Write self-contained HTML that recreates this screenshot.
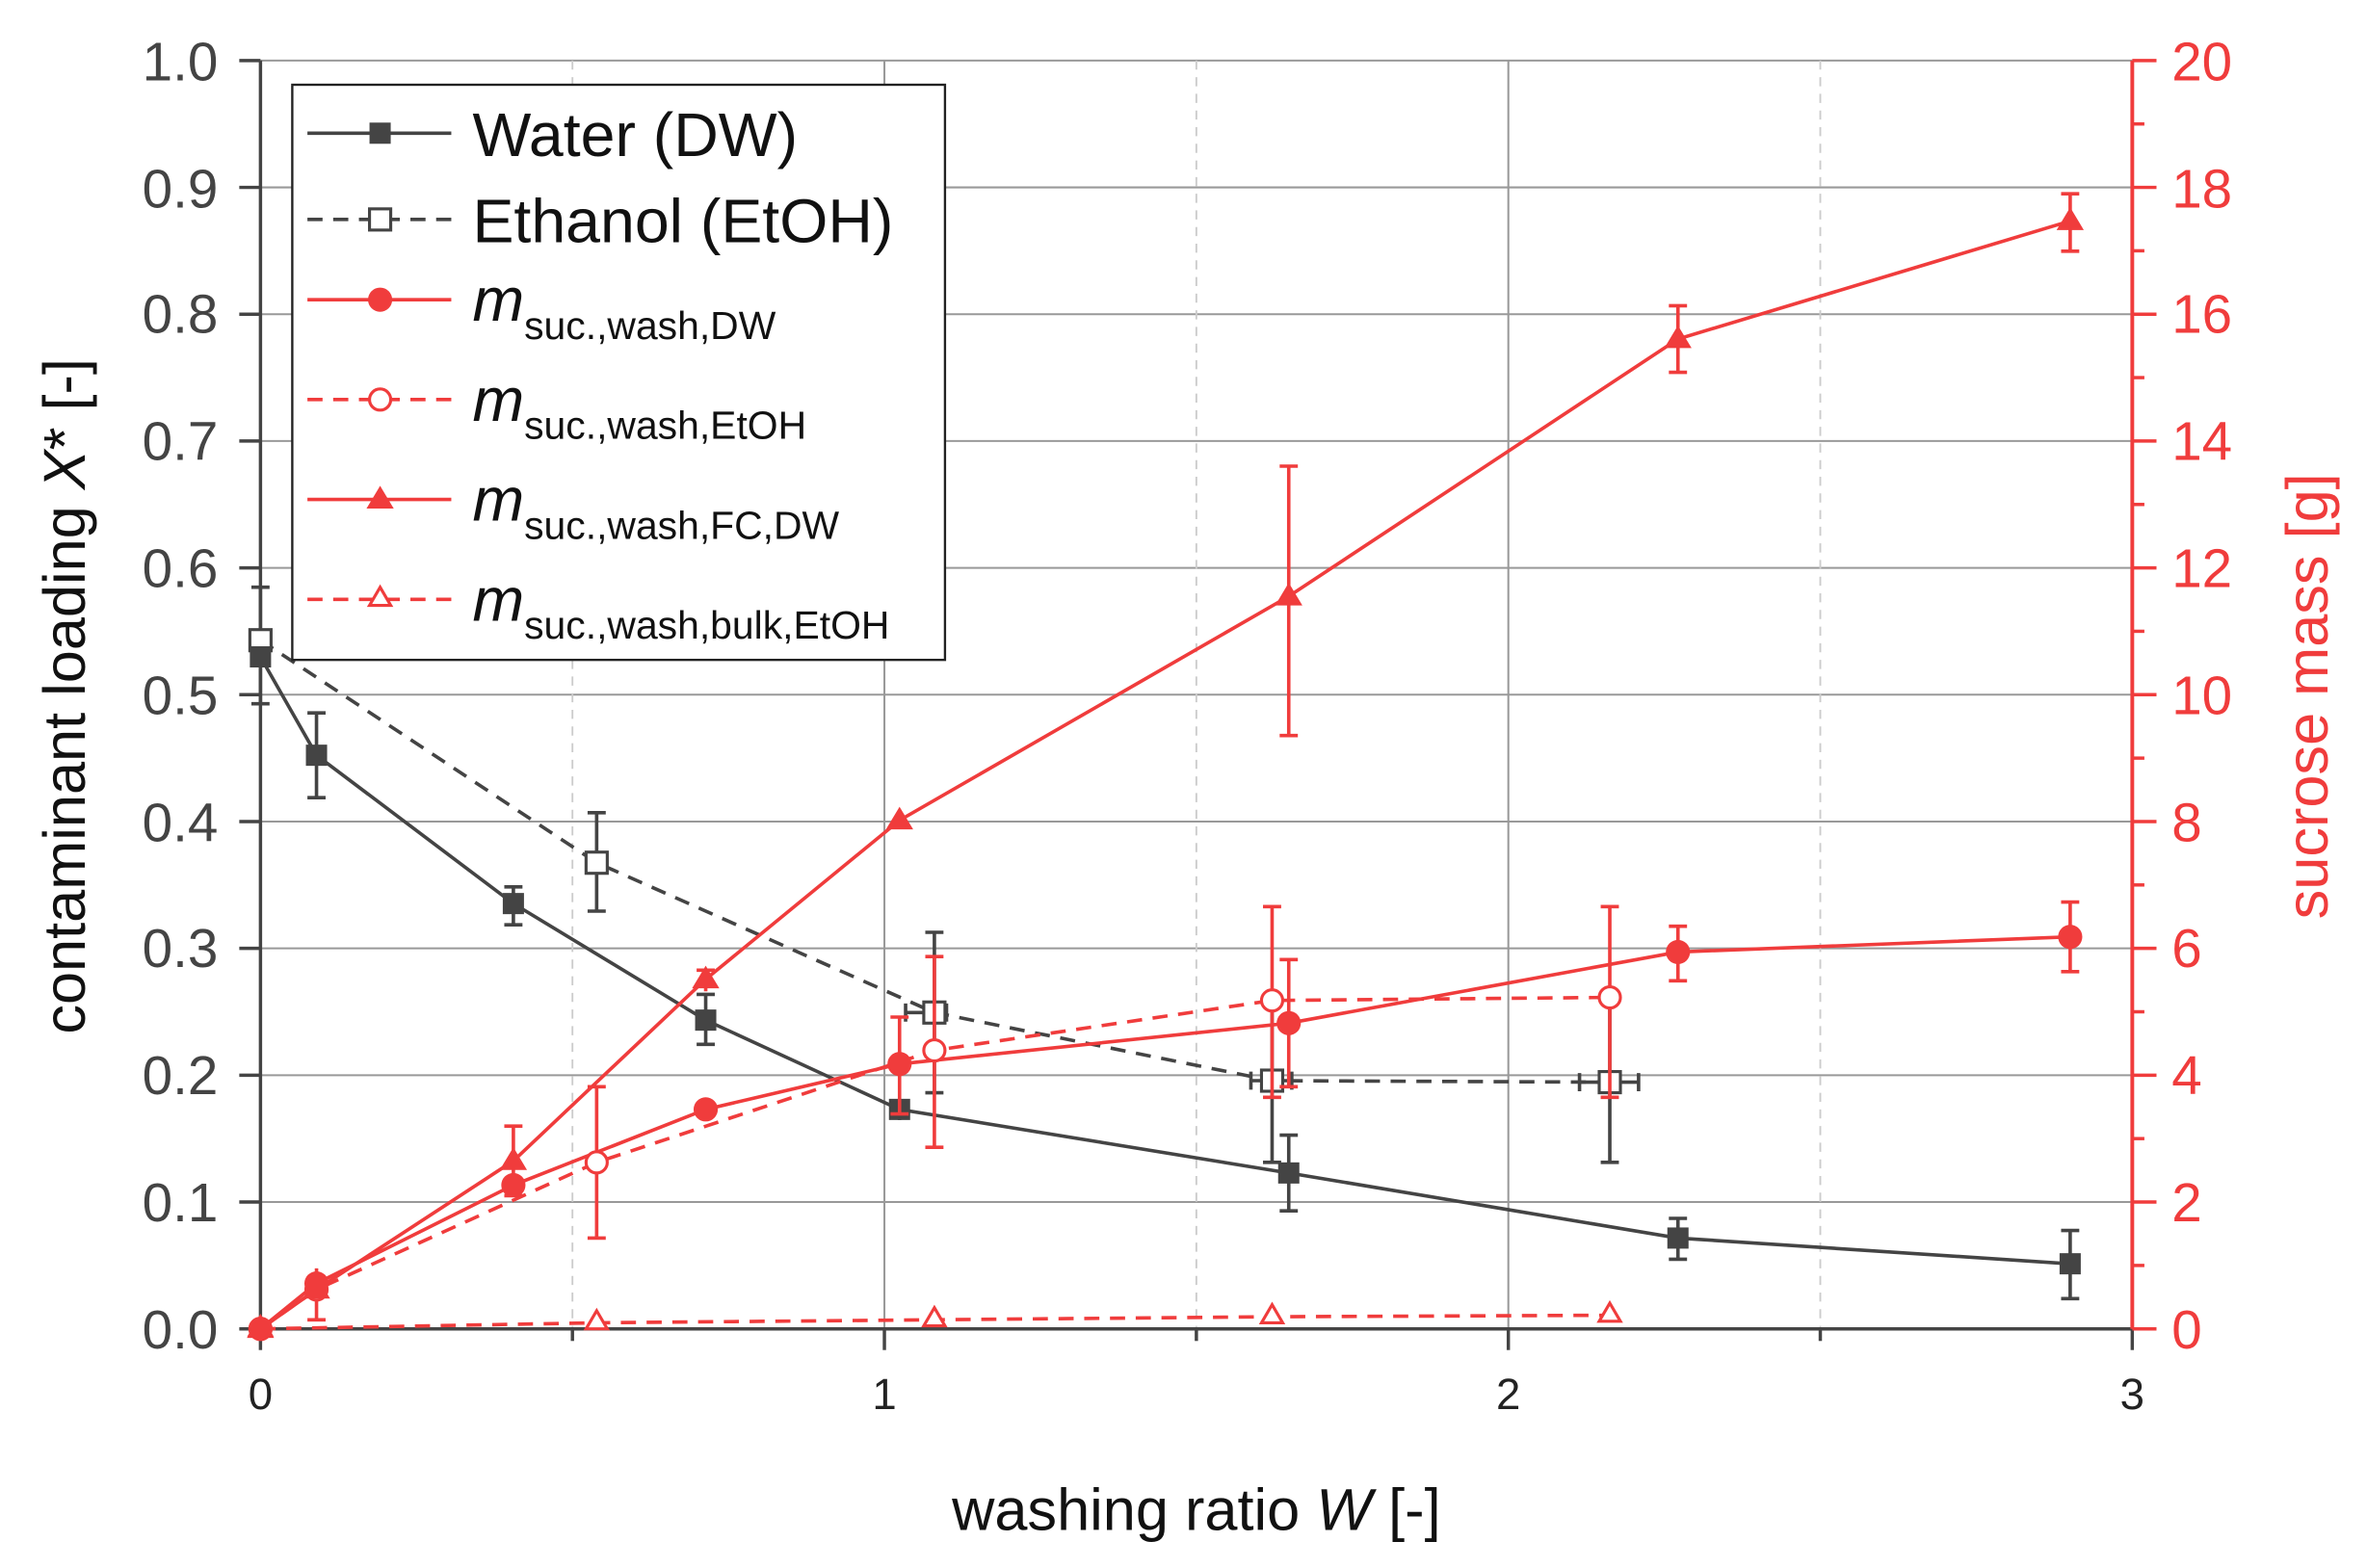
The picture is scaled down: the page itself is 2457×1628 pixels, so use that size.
<!DOCTYPE html>
<html><head><meta charset="utf-8"><style>
html,body{margin:0;padding:0;background:#fff;}
svg{display:block;}
text{font-family:"Liberation Sans",Arial,sans-serif;}
</style></head><body>
<svg width="2457" height="1628" viewBox="0 0 1563 1036" preserveAspectRatio="none" xmlns="http://www.w3.org/2000/svg">
<rect width="1563" height="1036" fill="#fff"/>
<!-- grid -->
<g stroke="#999" stroke-width="1.3">
<line x1="172" x2="1408" y1="794.2" y2="794.2"/><line x1="172" x2="1408" y1="710.4" y2="710.4"/>
<line x1="172" x2="1408" y1="626.6" y2="626.6"/><line x1="172" x2="1408" y1="542.8" y2="542.8"/>
<line x1="172" x2="1408" y1="459" y2="459"/><line x1="172" x2="1408" y1="375.2" y2="375.2"/>
<line x1="172" x2="1408" y1="291.4" y2="291.4"/><line x1="172" x2="1408" y1="207.6" y2="207.6"/>
<line x1="172" x2="1408" y1="123.8" y2="123.8"/><line x1="172" x2="1408" y1="40" y2="40"/>
<line x1="584" x2="584" y1="40" y2="878"/><line x1="996" x2="996" y1="40" y2="878"/>
</g>
<g stroke="#ccc" stroke-width="1.2" stroke-dasharray="6,5">
<line x1="378" x2="378" y1="40" y2="878"/><line x1="790" x2="790" y1="40" y2="878"/><line x1="1202" x2="1202" y1="40" y2="878"/>
</g>
<!-- axes -->
<g stroke="#444" stroke-width="2.2">
<line x1="172" y1="40" x2="172" y2="879"/><line x1="171" y1="878" x2="1408" y2="878"/>
<line x1="172" y1="878" x2="172" y2="892"/><line x1="584" y1="878" x2="584" y2="892"/><line x1="996" y1="878" x2="996" y2="892"/><line x1="1408" y1="878" x2="1408" y2="892"/>
<line x1="378" y1="878" x2="378" y2="886"/><line x1="790" y1="878" x2="790" y2="886"/><line x1="1202" y1="878" x2="1202" y2="886"/>
<line x1="158" y1="878" x2="172" y2="878"/><line x1="158" y1="794.2" x2="172" y2="794.2"/><line x1="158" y1="710.4" x2="172" y2="710.4"/><line x1="158" y1="626.6" x2="172" y2="626.6"/><line x1="158" y1="542.8" x2="172" y2="542.8"/><line x1="158" y1="459" x2="172" y2="459"/><line x1="158" y1="375.2" x2="172" y2="375.2"/><line x1="158" y1="291.4" x2="172" y2="291.4"/><line x1="158" y1="207.6" x2="172" y2="207.6"/><line x1="158" y1="123.8" x2="172" y2="123.8"/><line x1="158" y1="40" x2="172" y2="40"/>
</g>
<g stroke="#f03c3c" stroke-width="2.5">
<line x1="1408" y1="40" x2="1408" y2="878"/>
</g>
<g stroke="#f03c3c" stroke-width="2.2">
<line x1="1408" x2="1424" y1="878" y2="878"/><line x1="1408" x2="1424" y1="794.2" y2="794.2"/><line x1="1408" x2="1424" y1="710.4" y2="710.4"/><line x1="1408" x2="1424" y1="626.6" y2="626.6"/><line x1="1408" x2="1424" y1="542.8" y2="542.8"/><line x1="1408" x2="1424" y1="459" y2="459"/><line x1="1408" x2="1424" y1="375.2" y2="375.2"/><line x1="1408" x2="1424" y1="291.4" y2="291.4"/><line x1="1408" x2="1424" y1="207.6" y2="207.6"/><line x1="1408" x2="1424" y1="123.8" y2="123.8"/><line x1="1408" x2="1424" y1="40" y2="40"/>
<line x1="1408" x2="1416" y1="836.1" y2="836.1"/><line x1="1408" x2="1416" y1="752.3" y2="752.3"/><line x1="1408" x2="1416" y1="668.5" y2="668.5"/><line x1="1408" x2="1416" y1="584.7" y2="584.7"/><line x1="1408" x2="1416" y1="500.9" y2="500.9"/><line x1="1408" x2="1416" y1="417.1" y2="417.1"/><line x1="1408" x2="1416" y1="333.3" y2="333.3"/><line x1="1408" x2="1416" y1="249.5" y2="249.5"/><line x1="1408" x2="1416" y1="165.7" y2="165.7"/><line x1="1408" x2="1416" y1="81.9" y2="81.9"/>
</g>
<!-- tick labels -->
<g font-size="36" fill="#444" text-anchor="end">
<text x="144" y="891">0.0</text><text x="144" y="807">0.1</text><text x="144" y="723">0.2</text><text x="144" y="639">0.3</text><text x="144" y="556">0.4</text><text x="144" y="472">0.5</text><text x="144" y="388">0.6</text><text x="144" y="304">0.7</text><text x="144" y="220">0.8</text><text x="144" y="137">0.9</text><text x="144" y="53">1.0</text>
</g>
<g font-size="36" fill="#f03c3c" text-anchor="start">
<text x="1434" y="891">0</text><text x="1434" y="807">2</text><text x="1434" y="723">4</text><text x="1434" y="639">6</text><text x="1434" y="556">8</text><text x="1434" y="472">10</text><text x="1434" y="388">12</text><text x="1434" y="304">14</text><text x="1434" y="220">16</text><text x="1434" y="137">18</text><text x="1434" y="53">20</text>
</g>
<g font-size="29" fill="#222" text-anchor="middle">
<text x="172" y="931">0</text><text x="584" y="931">1</text><text x="996" y="931">2</text><text x="1408" y="931">3</text>
</g>
<text x="790" y="1011" font-size="39" fill="#111" text-anchor="middle">washing ratio <tspan font-style="italic">W</tspan> [-]</text>
<text transform="translate(56,460) rotate(-90)" font-size="39" fill="#111" text-anchor="middle">contaminant loading <tspan font-style="italic">X</tspan>* [-]</text>
<text transform="translate(1537,460) rotate(-90)" font-size="39" fill="#f03c3c" text-anchor="middle">sucrose mass [g]</text>

<!-- Ethanol -->
<g stroke="#444" stroke-width="2.3" fill="none">
<polyline stroke-dasharray="10,7" points="172,423 394,570 617,669 840,714 1063,715"/>
<path d="M172,388V465M166,388h12M166,465h12 M394,537V602M388,537h12M388,602h12 M617,616V722M611,616h12M611,722h12M598,669H625M598,663v12M625,663v12 M840,660V768M834,660h12M834,768h12M826,714H853M826,708v12M853,708v12 M1063,660V768M1057,660h12M1057,768h12M1043,715H1082M1043,709v12M1082,709v12"/>
</g>
<g stroke="#444" stroke-width="2" fill="#fff">
<rect x="165" y="416" width="14" height="14"/><rect x="387" y="563" width="14" height="14"/><rect x="610" y="662" width="14" height="14"/><rect x="833" y="707" width="14" height="14"/><rect x="1056" y="708" width="14" height="14"/>
</g>
<!-- Water -->
<g stroke="#444" stroke-width="2.3" fill="none">
<polyline points="172,434 209,499 339,597 466,674 594,733 851,775 1108,818 1367,835"/>
<path d="M209,471V527M203,471h12M203,527h12 M339,586V611M333,586h12M333,611h12 M466,657V690M460,657h12M460,690h12 M594,727V740 M851,750V800M845,750h12M845,800h12 M1108,805V832M1102,805h12M1102,832h12 M1367,813V858M1361,813h12M1361,858h12"/>
</g>
<g fill="#444">
<rect x="165" y="427" width="14" height="14"/><rect x="202" y="492" width="14" height="14"/><rect x="332" y="590" width="14" height="14"/><rect x="459" y="667" width="14" height="14"/><rect x="587" y="726" width="14" height="14"/><rect x="844" y="768" width="14" height="14"/><rect x="1101" y="811" width="14" height="14"/><rect x="1360" y="828" width="14" height="14"/>
</g>
<!-- red series -->
<g stroke="#f03c3c" stroke-width="2.3" fill="none">
<polyline stroke-dasharray="10,7" points="172,878 394,874 617,872 840,870 1063,869"/>
<polyline stroke-dasharray="10,7" points="172,878 209,852 394,768 617,694 840,661 1063,659"/>
<polyline points="172,878 209,848 339,783 466,733 594,703 851,676 1108,629 1367,619"/>
<polyline points="172,878 209,852 339,767 466,647 594,542 851,394 1108,224 1367,146"/>
<path d="M394,718V818M388,718h12M388,818h12 M617,632V758M611,632h12M611,758h12 M840,599V725M834,599h12M834,725h12 M1063,599V725M1057,599h12M1057,725h12
M594,672V736M588,672h12M588,736h12 M851,634V718M845,634h12M845,718h12 M1108,612V648M1102,612h12M1102,648h12 M1367,596V642M1361,596h12M1361,642h12
M209,838V872M203,872h12 M339,744V790M333,744h12M333,790h12 M466,641V655M460,641h12 M851,308V486M845,308h12M845,486h12 M1108,202V246M1102,202h12M1102,246h12 M1367,128V166M1361,128h12M1361,166h12"/>
</g>
<g fill="#fff" stroke="#f03c3c" stroke-width="2">
<path d="M172,870l7,12h-14z M394,866l7,12h-14z M617,864l7,12h-14z M840,862l7,12h-14z M1063,861l7,12h-14z"/>
<circle cx="172" cy="878" r="7"/><circle cx="209" cy="852" r="7"/><circle cx="394" cy="768" r="7"/><circle cx="617" cy="694" r="7"/><circle cx="840" cy="661" r="7"/><circle cx="1063" cy="659" r="7"/>
</g>
<g fill="#f03c3c">
<circle cx="172" cy="878" r="8"/><circle cx="209" cy="848" r="8"/><circle cx="339" cy="783" r="8"/><circle cx="466" cy="733" r="8"/><circle cx="594" cy="703" r="8"/><circle cx="851" cy="676" r="8"/><circle cx="1108" cy="629" r="8"/><circle cx="1367" cy="619" r="8"/>
<path d="M172,869l9,15h-18z M209,843l9,15h-18z M339,758l9,15h-18z M466,638l9,15h-18z M594,533l9,15h-18z M851,385l9,15h-18z M1108,215l9,15h-18z M1367,137l9,15h-18z"/>
</g>
<!-- legend -->
<rect x="193" y="56" width="431" height="380" fill="#fff" stroke="#222" stroke-width="1.5"/>
<g stroke-width="2.3" fill="none">
<line x1="203" x2="298" y1="88" y2="88" stroke="#444"/>
<line x1="203" x2="298" y1="145" y2="145" stroke="#444" stroke-dasharray="10,7"/>
<line x1="203" x2="298" y1="198" y2="198" stroke="#f03c3c"/>
<line x1="203" x2="298" y1="264" y2="264" stroke="#f03c3c" stroke-dasharray="10,7"/>
<line x1="203" x2="298" y1="330" y2="330" stroke="#f03c3c"/>
<line x1="203" x2="298" y1="396" y2="396" stroke="#f03c3c" stroke-dasharray="10,7"/>
</g>
<rect x="244" y="81" width="14" height="14" fill="#444"/>
<rect x="244" y="138" width="14" height="14" fill="#fff" stroke="#444" stroke-width="2"/>
<circle cx="251" cy="198" r="8" fill="#f03c3c"/>
<circle cx="251" cy="264" r="7" fill="#fff" stroke="#f03c3c" stroke-width="2"/>
<path d="M251,321l9,15h-18z" fill="#f03c3c"/>
<path d="M251,388l7,12h-14z" fill="#fff" stroke="#f03c3c" stroke-width="2"/>
<g font-size="41" fill="#111">
<text x="312" y="103">Water (DW)</text>
<text x="312" y="160">Ethanol (EtOH)</text>
<text x="312" y="212"><tspan font-style="italic">m</tspan><tspan font-size="26" dy="12">suc.,wash,DW</tspan></text>
<text x="312" y="278"><tspan font-style="italic">m</tspan><tspan font-size="26" dy="12">suc.,wash,EtOH</tspan></text>
<text x="312" y="344"><tspan font-style="italic">m</tspan><tspan font-size="26" dy="12">suc.,wash,FC,DW</tspan></text>
<text x="312" y="410"><tspan font-style="italic">m</tspan><tspan font-size="26" dy="12">suc.,wash,bulk,EtOH</tspan></text>
</g>
</svg>
</body></html>
